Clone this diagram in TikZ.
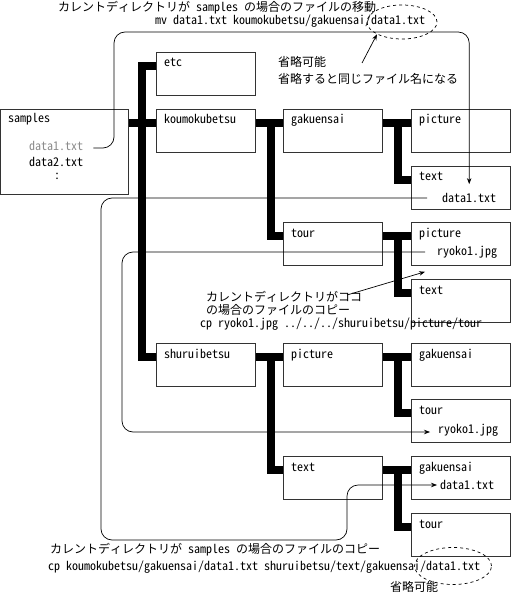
\documentclass[tikz,border=0pt]{standalone}
\usepackage{fontspec}
\setmainfont{Noto Sans Mono CJK JP}
\usetikzlibrary{arrows.meta,shapes.geometric}

\begin{document}
\begin{tikzpicture}[x=1pt,y=-1pt,
    font=\fontsize{12}{14}\selectfont,
    dirbox/.style={draw=black!80, line width=0.8pt, minimum width=99, minimum height=43, anchor=north west, inner sep=0},
    txt/.style={anchor=west, inner sep=0},
    branch/.style={line width=8pt, black},
    flow/.style={line width=0.7pt, rounded corners=11, -{Stealth[length=6pt,width=4.5pt]}},
    omitmark/.style={ellipse, draw, dashed, line width=0.7pt, minimum width=70, minimum height=34}]
    \useasboundingbox (0,0) rectangle (511,593);

    % directories
    \node[dirbox, minimum width=128, minimum height=85] (samples) at (0,109) {};
    \node[txt] at (8,119) {samples};
    \foreach \n/\x/\y/\t in {etc/156/52/etc, koumoku/156/109/koumokubetsu, gaku/283/109/gakuensai,
        picA/411/109/picture, textA/411/166/text, tour/283/222/tour, picB/411/222/picture,
        textB/411/279/text, shurui/156/343/shuruibetsu, picC/283/343/picture, gakuC/411/343/gakuensai,
        tourC/411/399/tour, textD/283/456/text, gakuD/411/456/gakuensai, tourD/411/513/tour}
    {
        \node[dirbox] (\n) at (\x,\y) {};
        \node[anchor=base west, inner sep=0] at ([xshift=8,yshift=-15]\n.north west) {\t};
    }

    % tree
    \draw[branch] ([yshift=-14]samples.north east) -- ([yshift=-14]koumoku.north west);
    \draw[branch] ([yshift=-14]etc.north west) -- ++(-14,0) |- ([yshift=-14]shurui.north west);
    \foreach \a/\b/\c in {koumoku/gaku/tour, gaku/picA/textA, tour/picB/textB,
        shurui/picC/textD, picC/gakuC/tourC, textD/gakuD/tourD}
    {
        \draw[branch] ([yshift=-14]\a.north east) -- ([yshift=-14]\b.north west);
        \draw[branch] ([xshift=15,yshift=-14]\a.north east) |- ([yshift=-14]\c.north west);
    }

    % files
    \node[txt, black!45] (srcfile) at (29,146) {data1.txt};
    \node[txt] at (29,162) {data2.txt};
    \node[inner sep=0] at (57,176) {:};
    \node[txt] (mvdst) at (442,198) {data1.txt};
    \node[txt] (ryoA) at (437,252) {ryoko1.jpg};
    \node[txt] (ryoB) at (438,430) {ryoko1.jpg};
    \node[txt] (cpdst) at (440,485) {data1.txt};

    % moves and copies
    \draw[flow] ([xshift=10,yshift=-2]srcfile.east) -| (114,32) -| ([yshift=9]mvdst.north);
    \draw[flow] ([xshift=-15]mvdst.west) -| (101,540) -| ([xshift=-93]cpdst.west) -- ([xshift=-3]cpdst.west);
    \draw[flow] ([xshift=-12]ryoA.west) -| ([xshift=-316,yshift=-2]ryoB.west) -- ([xshift=-8,yshift=-2]ryoB.west);

    % notes
    \node[txt] at (58,8) {カレントディレクトリが samples の場合のファイルの移動};
    \node[txt] at (155,21) {mv data1.txt koumokubetsu/gakuensai/data1.txt};
    \node[omitmark] (omitA) at (402,22) {};
    \node[txt] at (278,62) {省略可能};
    \node[txt] at (278,79) {省略すると同じファイル名になる};
    \coordinate (noteA) at (362,63);
    \draw[flow] (noteA) -- (omitA.south west);

    \node[txt] at (206,297) {カレントディレクトリがココ};
    \node[txt] at (206,310) {の場合のファイルのコピー};
    \coordinate (noteB) at (347,295);
    \draw[flow] (noteB) -- ([xshift=14,yshift=-6]picB.south west);
    \node[txt] at (200,324) {cp ryoko1.jpg ../../../shuruibetsu/picture/tour};

    \node[txt] at (50,550) {カレントディレクトリが samples の場合のファイルのコピー};
    \node[txt] at (48,567) {cp koumokubetsu/gakuensai/data1.txt shuruibetsu/text/gakuensai/data1.txt};
    \node[omitmark, minimum width=77, minimum height=37] (omitB) at (453,566) {};
    \node[txt] at (390,587) {省略可能};
\end{tikzpicture}
\end{document}
